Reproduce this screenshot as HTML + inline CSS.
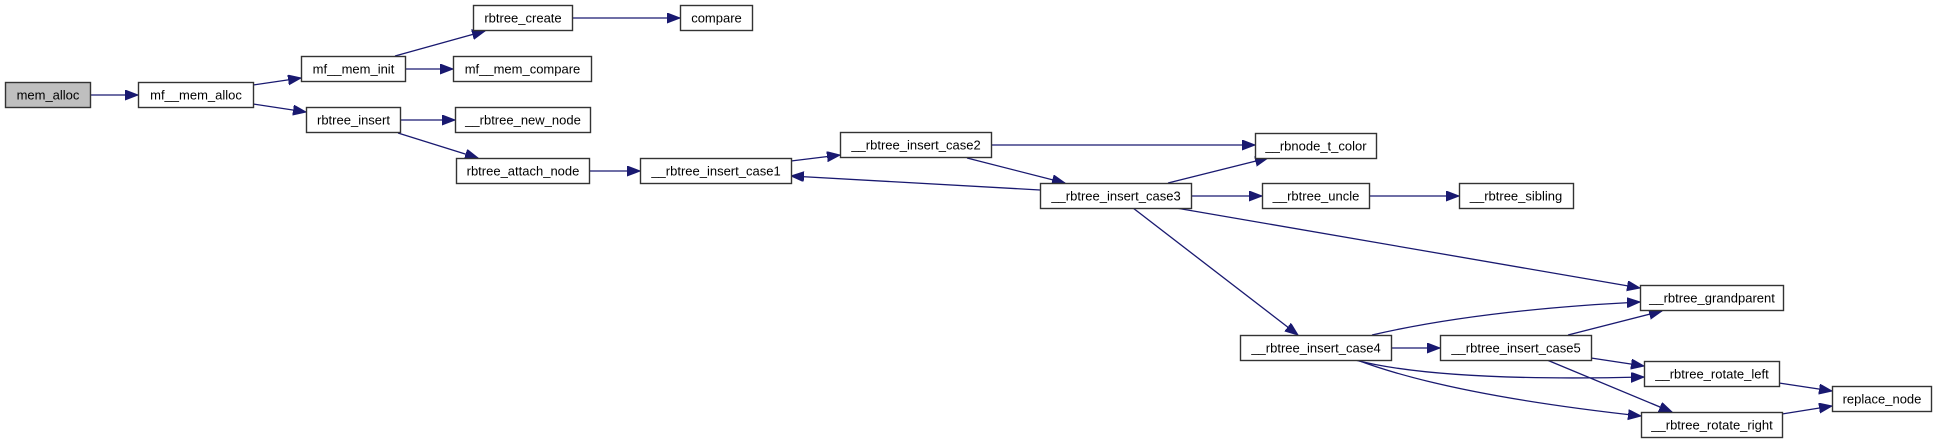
<!DOCTYPE html>
<html><head><meta charset="utf-8"><style>
html,body{margin:0;padding:0;background:#fff;}
svg{display:block}
text{font-family:"Liberation Sans",sans-serif;font-size:13px;fill:#000;}
</style></head><body>
<svg width="1936" height="443" viewBox="0 0 1936 443" xmlns="http://www.w3.org/2000/svg">
<defs>
<marker id="a" markerWidth="15" markerHeight="12" refX="13" refY="5" orient="auto" markerUnits="userSpaceOnUse">
<path d="M0,0 L13,5 L0,10 Z" fill="#191970" stroke="#191970"/>
</marker>
</defs>
<g fill="none" stroke="#191970" stroke-width="1.3" marker-end="url(#a)">
<path d="M90,95 L138,95"/>
<path d="M253,85 L301,78"/>
<path d="M253,104 L306,112"/>
<path d="M395,56 L485,31"/>
<path d="M405,69 L453,69"/>
<path d="M572,18 L680,18"/>
<path d="M400,120 L455,120"/>
<path d="M398,133 L478,158"/>
<path d="M589,171 L640,171"/>
<path d="M791,161 L840,155"/>
<path d="M1040,190 L791,176"/>
<path d="M991,145 L1255,145"/>
<path d="M967,158 L1065,183"/>
<path d="M1168,183 L1268,158"/>
<path d="M1191,196 L1262,196"/>
<path d="M1369,196 L1459,196"/>
<path d="M1176,208 L1640,288"/>
<path d="M1133,208 L1298,335"/>
<path d="M1372,335 Q1480,310 1640,302"/>
<path d="M1391,348 L1440,348"/>
<path d="M1568,335 L1662,311"/>
<path d="M1355,360 Q1440,382 1644,377"/>
<path d="M1591,358 L1644,366"/>
<path d="M1357,360 Q1450,395 1641,416"/>
<path d="M1547,360 L1672,412"/>
<path d="M1779,383 L1832,391"/>
<path d="M1782,414 L1832,406"/>
</g>
<g stroke="#333" stroke-width="1.4" fill="#fff">
<rect x="5.5" y="82.5" width="85" height="25" fill="#bfbfbf"/>
<rect x="138.5" y="82.5" width="115" height="25"/>
<rect x="301.5" y="56.5" width="104" height="25"/>
<rect x="306.5" y="107.5" width="94" height="25"/>
<rect x="473.5" y="5.5" width="99" height="25"/>
<rect x="680.5" y="5.5" width="72" height="25"/>
<rect x="453.5" y="56.5" width="138" height="25"/>
<rect x="455.5" y="107.5" width="135" height="25"/>
<rect x="456.5" y="158.5" width="133" height="25"/>
<rect x="640.5" y="158.5" width="151" height="25"/>
<rect x="840.5" y="132.5" width="151" height="25"/>
<rect x="1255.5" y="133.5" width="121" height="25"/>
<rect x="1040.5" y="183.5" width="151" height="25"/>
<rect x="1262.5" y="183.5" width="107" height="25"/>
<rect x="1459.5" y="183.5" width="114" height="25"/>
<rect x="1640.5" y="285.5" width="143" height="25"/>
<rect x="1240.5" y="335.5" width="151" height="25"/>
<rect x="1440.5" y="335.5" width="151" height="25"/>
<rect x="1644.5" y="361.5" width="135" height="25"/>
<rect x="1641.5" y="412.5" width="141" height="25"/>
<rect x="1832.5" y="386.5" width="99" height="25"/>
</g>
<g text-anchor="middle">
<text x="48" y="99.5">mem_alloc</text>
<text x="196" y="99.5">mf__mem_alloc</text>
<text x="353.5" y="73.5">mf__mem_init</text>
<text x="353.5" y="124.5">rbtree_insert</text>
<text x="523" y="22.5">rbtree_create</text>
<text x="716.5" y="22.5">compare</text>
<text x="522.5" y="73.5">mf__mem_compare</text>
<text x="523" y="124.5">__rbtree_new_node</text>
<text x="523" y="175.5">rbtree_attach_node</text>
<text x="716" y="175.5">__rbtree_insert_case1</text>
<text x="916" y="149.5">__rbtree_insert_case2</text>
<text x="1316" y="150.5">__rbnode_t_color</text>
<text x="1116" y="200.5">__rbtree_insert_case3</text>
<text x="1316" y="200.5">__rbtree_uncle</text>
<text x="1516" y="200.5">__rbtree_sibling</text>
<text x="1712" y="302.5">__rbtree_grandparent</text>
<text x="1316" y="352.5">__rbtree_insert_case4</text>
<text x="1516" y="352.5">__rbtree_insert_case5</text>
<text x="1712" y="378.5">__rbtree_rotate_left</text>
<text x="1712" y="429.5">__rbtree_rotate_right</text>
<text x="1882" y="403.5">replace_node</text>
</g>
</svg>
</body></html>
